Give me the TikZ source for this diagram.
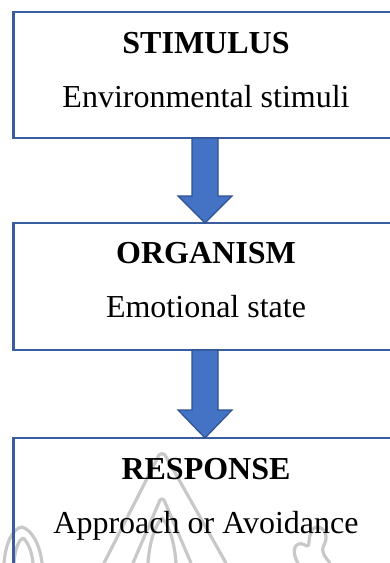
\documentclass[tikz,border=0pt]{standalone}
\usepackage{fontspec}
\setmainfont{Liberation Serif}
\usetikzlibrary{calc}
\definecolor{boxblue}{RGB}{58,93,160}
\definecolor{arrowfill}{RGB}{68,114,196}
\definecolor{arrowline}{RGB}{47,82,143}
\definecolor{markgray}{RGB}{200,200,200}
\tikzset{
  stagebox/.style={draw=boxblue, line width=2.5pt, minimum width=385pt,
    inner sep=0pt, outer sep=0pt},
  titletext/.style={anchor=base, font=\fontsize{32}{38}\selectfont\bfseries},
  bodytext/.style={anchor=base, font=\fontsize{32}{38}\selectfont},
  blockarrow/.style={fill=arrowfill, draw=arrowline, line width=1.2pt, line join=miter},
  emblemline/.style={draw=markgray, line width=3.2pt, line cap=round, line join=round}
}
\begin{document}
\begin{tikzpicture}[x=1pt,y=-1pt]
\useasboundingbox (0,0) rectangle (390,563);
\fill[white] (0,0) rectangle (390,563);
\clip (0,0) rectangle (390,563);

% faint emblem behind the last box
\draw[emblemline] (104,563) -- (159,455) to[out=60,in=120] (165,455) -- (226,563);
\draw[emblemline] (133,563) -- (160,500) to[out=60,in=120] (164,500) -- (191,563);
\draw[emblemline] (148,563) .. controls (150,535) and (158,522) .. (162,518)
            .. controls (166,522) and (174,535) .. (176,563);
\draw[emblemline] (4,563) .. controls (6,540) and (14,528) .. (22,527)
            .. controls (32,530) and (40,545) .. (42,563);
\draw[emblemline] (14,563) .. controls (15,548) and (19,540) .. (23,538)
            .. controls (28,542) and (32,552) .. (33,563);
\draw[emblemline] (298,563) .. controls (290,550) and (296,540) .. (305,545)
            .. controls (312,550) and (306,535) .. (314,528)
            .. controls (322,524) and (330,534) .. (324,545)
            .. controls (320,552) and (326,558) .. (330,563);

% the three stages
\node[stagebox, minimum height=126pt] (b1) at (206,75) {};
\node[stagebox, minimum height=127pt] (b2) at (206,286.5) {};
\node[stagebox, minimum height=130pt] (b3) at (206,503) {};

\node[titletext] (t1) at ($(b1.north)+(0,41)$) {STIMULUS};
\node[bodytext]  (s1) at ($(b1.north)+(0,95)$) {Environmental stimuli};
\node[titletext] (t2) at ($(b2.north)+(0,40)$) {ORGANISM};
\node[bodytext]  (s2) at ($(b2.north)+(0,94)$) {Emotional state};
\node[titletext] (t3) at ($(b3.north)+(0,41)$) {RESPONSE};
\node[bodytext]  (s3) at ($(b3.north)+(0,95)$) {Approach or Avoidance};

% block arrows between stages
\draw[blockarrow] ($(b1.south)+(-14,0)$) -- ($(b2.north)+(-14,-27)$)
  -- ($(b2.north)+(-28,-27)$) -- ($(b2.north)+(-1,0)$)
  -- ($(b2.north)+(26,-27)$) -- ($(b2.north)+(12,-27)$)
  -- ($(b1.south)+(12,0)$) -- cycle;
\draw[blockarrow] ($(b2.south)+(-14,0)$) -- ($(b3.north)+(-14,-28)$)
  -- ($(b3.north)+(-28,-28)$) -- ($(b3.north)+(-1,0)$)
  -- ($(b3.north)+(26,-28)$) -- ($(b3.north)+(12,-28)$)
  -- ($(b2.south)+(12,0)$) -- cycle;
\end{tikzpicture}
\end{document}
